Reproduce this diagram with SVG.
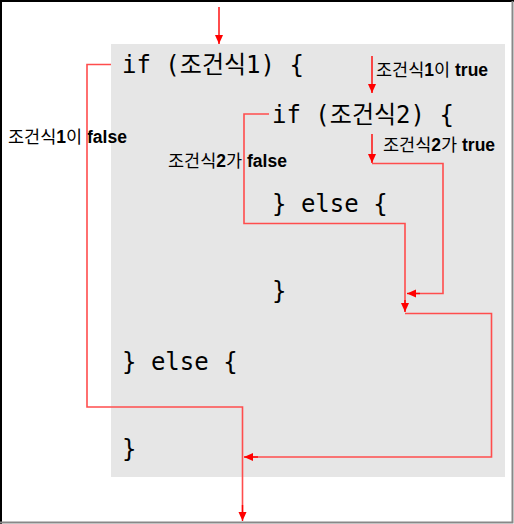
<svg xmlns="http://www.w3.org/2000/svg" width="514" height="524" viewBox="0 0 514 524">
<defs>
<marker id="ah" markerUnits="userSpaceOnUse" markerWidth="10" markerHeight="10" refX="9" refY="5" orient="auto">
<path d="M0,1 L9,5 L0,9 Z" fill="#ff0000"/>
</marker>
</defs>
<style>
.code{font-family:"DejaVu Sans Mono","Noto Sans CJK KR",monospace;font-size:24px;fill:#000}
.lbl{font-family:"Liberation Sans","Noto Sans CJK KR",sans-serif;font-size:17.5px;font-weight:bold;fill:#000}
.ko{font-weight:normal}
.wire{fill:none;stroke:#ff4d4d;stroke-width:1.6}
.arr{fill:none;stroke:#ff0000;stroke-width:1.4;marker-end:url(#ah)}
</style>
<rect x="0" y="0" width="514" height="524" fill="#fff"/>
<path d="M1,524 V1 H514" fill="none" stroke="#000" stroke-width="2"/>
<path d="M512.5,1 V522.5 H0" fill="none" stroke="#888" stroke-width="2"/>
<rect id="codebox" x="111" y="44" width="394" height="433" fill="#e6e6e6"/>
<g id="code">
<text id="if1" class="code" x="122" y="73">if (조건식1) {</text>
<text id="if2" class="code" x="272" y="123">if (조건식2) {</text>
<text id="else2" class="code" x="272" y="212">} else {</text>
<text id="end2" class="code" x="272" y="299">}</text>
<text id="else1" class="code" x="122" y="370">} else {</text>
<text id="end1" class="code" x="122" y="457">}</text>
</g>
<g id="labels">
<text class="lbl" x="376" y="76"><tspan class="ko">조건식</tspan>1<tspan class="ko">이</tspan> true</text>
<text class="lbl" x="383" y="151"><tspan class="ko">조건식</tspan>2<tspan class="ko">가</tspan> true</text>
<text class="lbl" x="8" y="143"><tspan class="ko">조건식</tspan>1<tspan class="ko">이</tspan> false</text>
<text class="lbl" x="168" y="167"><tspan class="ko">조건식</tspan>2<tspan class="ko">가</tspan> false</text>
</g>
<g id="connectors">
<path class="arr" d="M219,7 V44"/>
<path class="arr" d="M372,56 V93"/>
<path class="arr" d="M372,134 V163"/>
<path class="wire" d="M111,64.5 H87 V407 H242.5 V512"/>
<path class="arr" d="M242.5,505 V521"/>
<path class="wire" d="M269,114 H244 V223.5 H405 V303"/>
<path class="arr" d="M405,300 V312"/>
<path class="wire" d="M372,163.5 H443 V293.5 H415"/>
<path class="arr" d="M420,293.5 H407"/>
<path class="wire" d="M405,313.5 H491.5 V457 H253"/>
<path class="arr" d="M258,457 H244"/>
</g>
</svg>
